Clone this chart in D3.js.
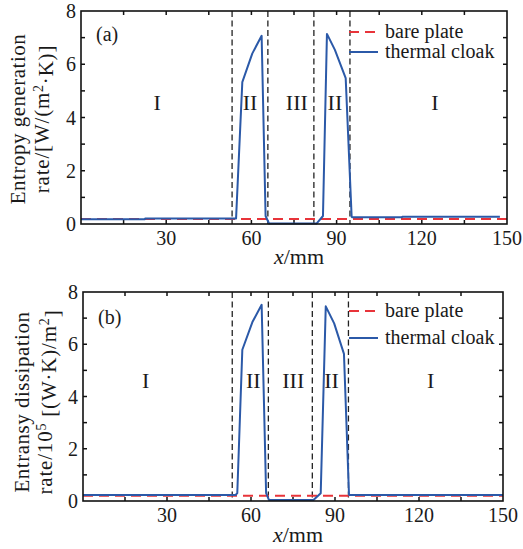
<!DOCTYPE html>
<meta charset="utf-8">
<html>
<head>
    <title>Entropy / entransy</title>
    <style type="text/css">
        body{ margin: 0; background: #fff; }
    </style>
</head>
<body>
<script src="https://cdn.jsdelivr.net/npm/d3@7"></script>
<script type="text/javascript">
// panel (a): entropy generation rate
var cloakXA = [0, 22.5, 22.6, 54.6, 56.8, 60.3, 63.6, 65.0, 66.2, 83.0, 85.2, 86.6, 89.4, 93.2, 95.3, 95.5, 113, 113.1, 147.5]
var cloakYA = [0.18, 0.18, 0.21, 0.21, 5.33, 6.4, 7.07, 0.3, 0.02, 0.02, 0.3, 7.14, 6.54, 5.48, 0.27, 0.25, 0.25, 0.27, 0.27]
var bareA = 0.19

// panel (b): entransy dissipation rate
var cloakXB = [0, 54.5, 55.1, 56.9, 60.5, 63.8, 65.4, 66.4, 82.3, 84.9, 86.7, 89.7, 93.2, 95.0, 95.1, 150]
var cloakYB = [0.23, 0.23, 0.3, 5.79, 6.85, 7.51, 0.3, 0.04, 0.04, 0.3, 7.45, 6.8, 5.63, 0.25, 0.23, 0.23]
var bareB = 0.2

var regionBordersA = [53.2, 65.8, 82.0, 94.7]
var regionBordersB = [53.3, 66.2, 81.9, 94.8]
var regionNames = ["I", "II", "III", "II", "I"]
var regionPosA = [26.8, 59.5, 76, 89.4, 124.6]
var regionPosB = [22.4, 60.8, 75.1, 88.8, 124.2]

var xTicks = [30, 60, 90, 120, 150]
var yTicks = [0, 2, 4, 6, 8]
var legendNames = ["bare plate", "thermal cloak"]

var blue = "#2b59a8"
var red = "#e8343a"
var serif = "'Liberation Serif'"

var svg = d3.select("body").append("svg")
    .attr("width", 523)
    .attr("height", 549)

function drawPanel(p){
    var x = d3.scaleLinear().domain([0, 150]).range([p.left, p.right])
    var y = d3.scaleLinear().domain([0, 8]).range([p.bottom, p.top])
    var g = svg.append("g")

    // inward ticks on all four sides
    var xt = d3.range(15, 150, 15)
    var yt = d3.range(1, 8, 1)
    g.selectAll(".xtb").data(xt).enter().append("line")
        .attr("x1", d => x(d)).attr("x2", d => x(d))
        .attr("y1", p.bottom).attr("y2", p.bottom - 4)
        .attr("stroke", "#111").attr("stroke-width", 1.5)
    g.selectAll(".xtt").data(xt).enter().append("line")
        .attr("x1", d => x(d)).attr("x2", d => x(d))
        .attr("y1", p.top).attr("y2", p.top + 4)
        .attr("stroke", "#111").attr("stroke-width", 1.5)
    g.selectAll(".ytl").data(yt).enter().append("line")
        .attr("x1", p.left).attr("x2", p.left + 4)
        .attr("y1", d => y(d)).attr("y2", d => y(d))
        .attr("stroke", "#111").attr("stroke-width", 1.5)
    g.selectAll(".ytr").data(yt).enter().append("line")
        .attr("x1", p.right).attr("x2", p.right - 4)
        .attr("y1", d => y(d)).attr("y2", d => y(d))
        .attr("stroke", "#111").attr("stroke-width", 1.5)

    // tick labels
    g.selectAll(".xl").data(xTicks).enter().append("text")
        .attr("x", d => x(d)).attr("y", p.bottom + 21)
        .attr("text-anchor", "middle").attr("font-size", 20)
        .text(d => d)
    g.selectAll(".yl").data(yTicks).enter().append("text")
        .attr("x", p.left - 5).attr("y", d => y(d))
        .attr("dy", "0.35em")
        .attr("text-anchor", "end").attr("font-size", 20)
        .text(d => d)

    // region borders
    g.selectAll(".border").data(p.borders).enter().append("line")
        .attr("x1", d => x(d)).attr("x2", d => x(d))
        .attr("y1", p.top).attr("y2", p.bottom)
        .attr("stroke", "#222").attr("stroke-width", 1.3)
        .attr("stroke-dasharray", "6,3.5")

    // region names
    g.selectAll(".region").data(regionNames).enter().append("text")
        .attr("x", (d, i) => x(p.regionPos[i]))
        .attr("y", p.regionY)
        .attr("text-anchor", "middle").attr("font-size", 22)
        .text(d => d)

    // bare plate
    g.append("line")
        .attr("x1", x(0)).attr("x2", x(150))
        .attr("y1", y(p.bare)).attr("y2", y(p.bare))
        .attr("stroke", red).attr("stroke-width", 2)
        .attr("stroke-dasharray", "10,6")

    // thermal cloak
    var line = d3.line().x(d => x(d[0])).y(d => y(d[1]))
    g.append("path")
        .datum(d3.zip(p.cx, p.cy))
        .attr("d", line)
        .attr("fill", "none")
        .attr("stroke", blue).attr("stroke-width", 2)
        .attr("stroke-linejoin", "round")

    // frame
    g.append("rect")
        .attr("x", p.left).attr("y", p.top)
        .attr("width", p.right - p.left).attr("height", p.bottom - p.top)
        .attr("fill", "none").attr("stroke", "#111").attr("stroke-width", 1.6)

    // panel tag
    g.append("text").attr("x", p.left + 15).attr("y", p.tagY)
        .attr("font-size", 20).text(p.tag)

    // legend
    var lx = 349, tx = 385
    g.append("line").attr("x1", lx).attr("x2", lx + 29)
        .attr("y1", p.legY[0]).attr("y2", p.legY[0])
        .attr("stroke", red).attr("stroke-width", 2).attr("stroke-dasharray", "10,6")
    g.append("line").attr("x1", lx).attr("x2", lx + 29)
        .attr("y1", p.legY[1]).attr("y2", p.legY[1])
        .attr("stroke", blue).attr("stroke-width", 2)
    g.selectAll(".leg").data(legendNames).enter().append("text")
        .attr("x", tx).attr("y", (d, i) => p.legY[i])
        .attr("dy", "0.32em").attr("font-size", 20)
        .text(d => d)

    // x axis title
    var xt2 = g.append("text").attr("x", (p.left + p.right) / 2 + 5).attr("y", p.xTitleY)
        .attr("text-anchor", "middle").attr("font-size", 22)
    xt2.append("tspan").attr("font-style", "italic").text("x")
    xt2.append("tspan").text("/mm")

    // y axis title, two lines
    var cy = p.yTitleCenter
    g.append("text")
        .attr("transform", "translate(" + p.yTitleX[0] + "," + cy + ") rotate(-90)")
        .attr("text-anchor", "middle").attr("dy", "0.35em")
        .attr("font-size", 21).attr("letter-spacing", 0.5)
        .text(p.yTitle1)
    var t2 = g.append("text")
        .attr("transform", "translate(" + p.yTitleX[1] + "," + cy + ") rotate(-90)")
        .attr("text-anchor", "middle").attr("dy", "0.35em")
        .attr("font-size", 21).attr("letter-spacing", 0.8)
    p.yTitle2(t2)
}

drawPanel({
    left: 81, right: 507, top: 11, bottom: 224,
    cx: cloakXA, cy: cloakYA, bare: bareA,
    borders: regionBordersA, regionPos: regionPosA, regionY: 110,
    tag: "(a)", tagY: 41, legY: [32, 52],
    xTitleY: 264, yTitleX: [18, 42], yTitleCenter: 119,
    yTitle1: "Entropy generation",
    yTitle2: function(t){
        t.append("tspan").text("rate/[W/(m")
        t.append("tspan").attr("dy", "-0.45em").attr("font-size", 14).text("2")
        t.append("tspan").attr("dy", "0.45em").text("·K)]")
    }
})

drawPanel({
    left: 83, right: 503, top: 292, bottom: 501,
    cx: cloakXB, cy: cloakYB, bare: bareB,
    borders: regionBordersB, regionPos: regionPosB, regionY: 388,
    tag: "(b)", tagY: 324, legY: [311, 338],
    xTitleY: 542, yTitleX: [22, 45], yTitleCenter: 402,
    yTitle1: "Entransy dissipation",
    yTitle2: function(t){
        t.append("tspan").text("rate/10")
        t.append("tspan").attr("dy", "-0.45em").attr("font-size", 14).text("5")
        t.append("tspan").attr("dy", "0.45em").text(" [(W·K)/m")
        t.append("tspan").attr("dy", "-0.45em").attr("font-size", 14).text("2")
        t.append("tspan").attr("dy", "0.45em").text("]")
    }
})

svg.selectAll("text").attr("font-family", serif).attr("fill", "#1a1a1a")
</script>
</body>
</html>
